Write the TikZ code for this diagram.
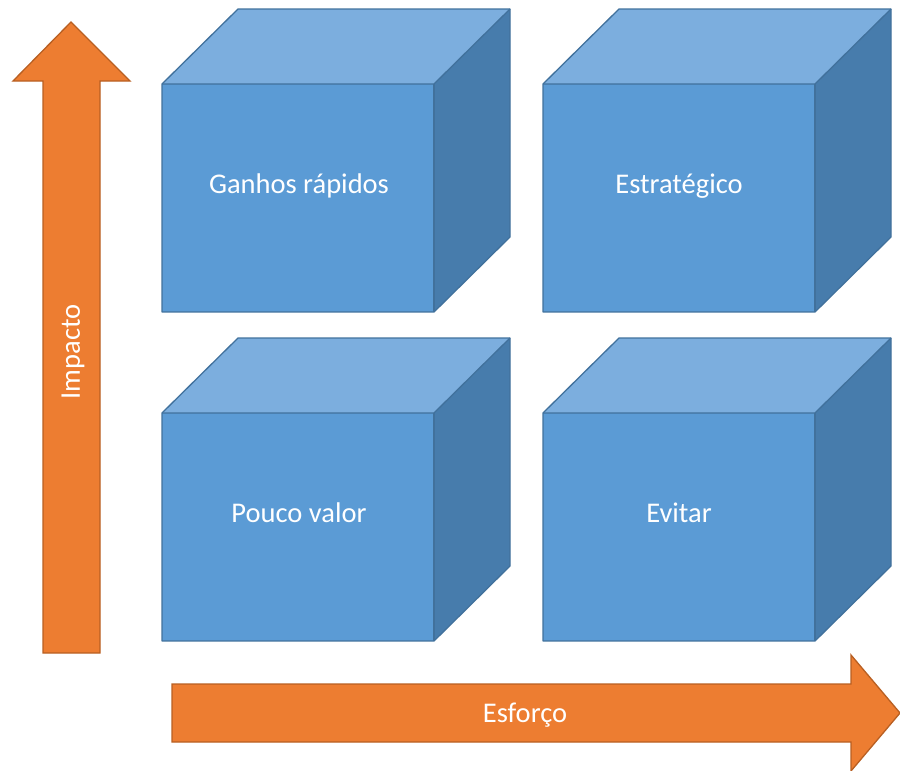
\documentclass[tikz,border=0pt]{standalone}
\usepackage{fontspec}
\setmainfont{Carlito}
\definecolor{frontblue}{HTML}{5B9BD5}
\definecolor{topblue}{HTML}{7CAEDE}
\definecolor{sideblue}{HTML}{477CAC}
\definecolor{edgeblue}{HTML}{41719C}
\definecolor{arroworange}{HTML}{ED7D31}
\definecolor{edgeorange}{HTML}{B85F22}
\tikzset{
  face/.style={draw=edgeblue, line width=1.3pt, line join=round},
  bigarrow/.style={fill=arroworange, draw=edgeorange, line width=1.3pt, line join=miter},
  label/.style={text=white, font=\fontsize{28.5}{34}\selectfont, inner sep=0pt, anchor=center}
}
\begin{document}
\begin{tikzpicture}[x=1pt, y=-1pt]
\useasboundingbox (0,0) rectangle (900,771);

% four cubes: front face top-left corner, width 272, height 228, depth (76,-75)
\foreach \X/\Y in {162/84, 543/84, 162/413, 543/413}{
  \fill[topblue] (\X,\Y) -- (\X+76,\Y-75) -- (\X+348,\Y-75) -- (\X+272,\Y) -- cycle;
  \fill[sideblue] (\X+272,\Y) -- (\X+348,\Y-75) -- (\X+348,\Y+153) -- (\X+272,\Y+228) -- cycle;
  \fill[frontblue] (\X,\Y) rectangle (\X+272,\Y+228);
  \draw[face] (\X,\Y) -- (\X+76,\Y-75) -- (\X+348,\Y-75) -- (\X+348,\Y+153) -- (\X+272,\Y+228) -- (\X,\Y+228) -- cycle;
  \draw[face] (\X,\Y) -- (\X+272,\Y) -- (\X+348,\Y-75);
  \draw[face] (\X+272,\Y) -- (\X+272,\Y+228);
}

% axis arrows
\draw[bigarrow] (43,653) -- (43,81) -- (13,81) -- (71,22) -- (130,81) -- (100,81) -- (100,653) -- cycle;
\draw[bigarrow] (172,684) -- (851,684) -- (851,655) -- (900,713) -- (851,771) -- (851,742) -- (172,742) -- cycle;

% labels
\node[label] (ganhos) at (299,186) {Ganhos rápidos};
\node[label] (estrategico) at (679,186) {Estratégico};
\node[label] (pouco) at (299,513) {Pouco valor};
\node[label] (evitar) at (679,513) {Evitar};
\node[label, rotate=90] (impacto) at (73,352) {Impacto};
\node[label] (esforco) at (525,715) {Esforço};
\end{tikzpicture}
\end{document}
